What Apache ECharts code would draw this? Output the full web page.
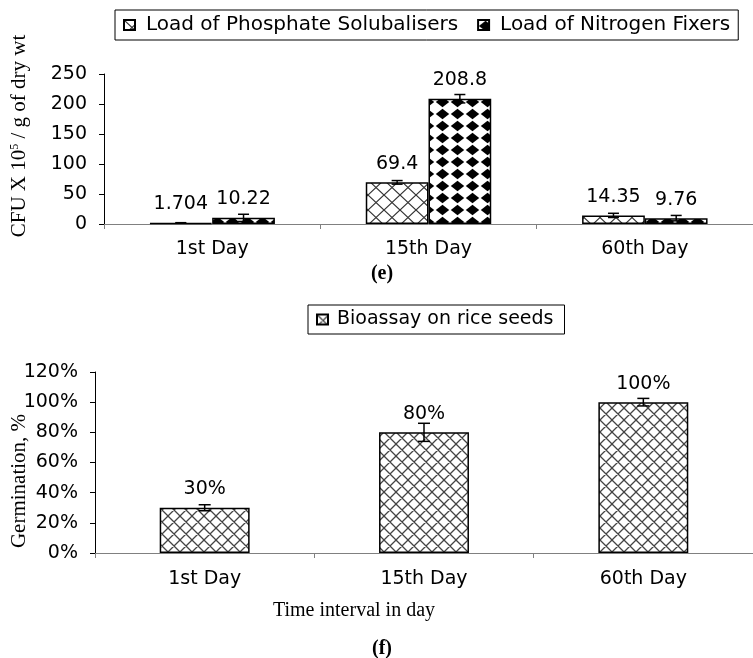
<!DOCTYPE html>
<html><head><meta charset="utf-8">
<script src="https://cdn.jsdelivr.net/npm/echarts@6/dist/echarts.min.js"></script>
<style>html,body{margin:0;padding:0;background:#fff}#c{width:753px;height:658px}</style>
</head><body><div id="c"></div>
<script>
// ---- data ----
const categories = ['1st Day', '15th Day', '60th Day'];
const phosphateValues = [1.704, 69.4, 14.35];
const phosphateErrors = [0.5, 3, 3.5];
const nitrogenValues = [10.22, 208.8, 9.76];
const nitrogenErrors = [6, 7, 4.5];
const germinationValues = [30, 80, 100];
const germinationErrors = [2, 6, 2.5];
const cfuAxis = { min: 0, max: 250, interval: 50 };
const germAxis = { min: 0, max: 120, interval: 20 };

// ---- patterns ----
function crossHatch(w, h, color, lw) {
  const c = document.createElement('canvas'); c.width = w; c.height = h;
  const g = c.getContext('2d');
  g.fillStyle = '#fff'; g.fillRect(0, 0, w, h);
  g.strokeStyle = color; g.lineWidth = lw;
  g.beginPath();
  for (const dx of [-w, 0, w]) {
    g.moveTo(dx, 0); g.lineTo(dx + w, h);
    g.moveTo(dx + w, 0); g.lineTo(dx, h);
  }
  g.stroke();
  return { image: c, repeat: 'repeat' };
}
function harlequin(w, h, inset) {
  const c = document.createElement('canvas'); c.width = w; c.height = h;
  const g = c.getContext('2d');
  g.fillStyle = '#fff'; g.fillRect(0, 0, w, h);
  g.fillStyle = '#000';
  g.beginPath();
  g.moveTo(w / 2, inset); g.lineTo(w - inset, h / 2); g.lineTo(w / 2, h - inset); g.lineTo(inset, h / 2);
  g.closePath(); g.fill();
  return { image: c, repeat: 'repeat' };
}

const SANS = 'DejaVu Sans';
const SERIF = 'Liberation Serif';

function errorBarRender(gapFrac, nBars, capW) {
  return function (params, api) {
    const xi = api.value(0), v = api.value(1), e = api.value(2), k = api.value(3);
    const band = api.size([1, 0])[0];
    const used = band * (1 - gapFrac);
    const bw = used / nBars;
    const base = api.coord([xi, v]);
    const cx = base[0] - used / 2 + bw * (k + 0.5);
    const yt = api.coord([xi, v + e])[1], yb = api.coord([xi, v - e])[1];
    const st = { stroke: '#000', lineWidth: 1.5 };
    return {
      type: 'group', children: [
        { type: 'line', shape: { x1: cx, y1: yt, x2: cx, y2: yb }, style: st },
        { type: 'line', shape: { x1: cx - capW / 2, y1: yt, x2: cx + capW / 2, y2: yt }, style: st },
        { type: 'line', shape: { x1: cx - capW / 2, y1: yb, x2: cx + capW / 2, y2: yb }, style: st }
      ]
    };
  };
}

const topErr = [];
phosphateValues.forEach((v, i) => topErr.push([i, v, phosphateErrors[i], 0]));
nitrogenValues.forEach((v, i) => topErr.push([i, v, nitrogenErrors[i], 1]));
const botErr = germinationValues.map((v, i) => [i, v, germinationErrors[i], 0]);

const axisLabelStyle = { fontFamily: SANS, fontSize: 19, color: '#000' };
const labelStyle = { show: true, position: 'top', distance: 9, fontFamily: SANS, fontSize: 19, color: '#000' };

function xAxisDef(gridIndex, margin) {
  return {
    type: 'category', gridIndex, data: categories,
    axisLine: { lineStyle: { color: '#808080', width: 1 } },
    axisTick: { show: true, length: 5, lineStyle: { color: '#808080' } },
    axisLabel: Object.assign({ margin }, axisLabelStyle),
    splitLine: { show: false }
  };
}
function yAxisDef(gridIndex, ax, fmt) {
  return {
    type: 'value', gridIndex, min: ax.min, max: ax.max, interval: ax.interval,
    axisLine: { show: true, lineStyle: { color: '#000', width: 1 } },
    axisTick: { show: true, length: 5, lineStyle: { color: '#000' } },
    axisLabel: Object.assign({ margin: 17, formatter: fmt }, axisLabelStyle),
    splitLine: { show: false }
  };
}

const chart = echarts.init(document.getElementById('c'), null, { renderer: 'canvas' });
chart.setOption({
  backgroundColor: '#fff',
  animation: false,
  grid: [
    { left: 104, top: 74, width: 657, height: 150 },
    { left: 95, top: 372, width: 690, height: 181 }
  ],
  legend: [
    {
      left: 115, top: 10, padding: [5, 8, 5, 8], borderColor: '#000', borderWidth: 1,
      itemWidth: 11, itemHeight: 10, itemGap: 19, icon: 'rect',
      data: ['Load of Phosphate Solubalisers', 'Load of Nitrogen Fixers'],
      textStyle: { fontFamily: SANS, fontSize: 20, color: '#000', padding: [0, 0, 0, 6] }
    },
    {
      left: 308, top: 305, padding: [5, 11, 5, 8], borderColor: '#000', borderWidth: 1,
      itemWidth: 11, itemHeight: 10, icon: 'rect',
      data: ['Bioassay on rice seeds'],
      textStyle: { fontFamily: SANS, fontSize: 19, color: '#000', padding: [0, 0, 0, 4] }
    }
  ],
  xAxis: [xAxisDef(0, 16), xAxisDef(1, 17)],
  yAxis: [
    yAxisDef(0, cfuAxis, v => String(v)),
    yAxisDef(1, germAxis, v => Math.round(v) + '%')
  ],
  series: [
    {
      name: 'Load of Phosphate Solubalisers', type: 'bar', xAxisIndex: 0, yAxisIndex: 0,
      data: phosphateValues, barGap: '0%', barCategoryGap: '42%',
      itemStyle: { color: crossHatch(16, 15, '#333', 1.2), borderColor: '#000', borderWidth: 1.5 },
      label: labelStyle
    },
    {
      name: 'Load of Nitrogen Fixers', type: 'bar', xAxisIndex: 0, yAxisIndex: 0,
      data: nitrogenValues, barGap: '0%', barCategoryGap: '42%',
      itemStyle: { color: harlequin(15, 12, 0.8), borderColor: '#000', borderWidth: 1.5 },
      label: labelStyle
    },
    {
      name: 'Bioassay on rice seeds', type: 'bar', xAxisIndex: 1, yAxisIndex: 1,
      data: germinationValues, barCategoryGap: '59%',
      itemStyle: { color: crossHatch(12, 12, '#444', 1.3), borderColor: '#000', borderWidth: 1.5 },
      label: Object.assign({}, labelStyle, { formatter: p => p.value + '%' })
    },
    {
      type: 'custom', xAxisIndex: 0, yAxisIndex: 0, z: 5, silent: true,
      renderItem: errorBarRender(0.42, 2, 11), data: topErr
    },
    {
      type: 'custom', xAxisIndex: 1, yAxisIndex: 1, z: 5, silent: true,
      renderItem: errorBarRender(0.59, 1, 12), data: botErr
    }
  ],
  graphic: [
    {
      type: 'text', x: 19, y: 136, rotation: Math.PI / 2,
      style: {
        text: '{n|CFU X 10}{s|5}{n| / g of dry wt}', align: 'center', verticalAlign: 'middle',
        rich: {
          n: { fontFamily: SERIF, fontSize: 21, fill: '#000' },
          s: { fontFamily: SERIF, fontSize: 12, fill: '#000', verticalAlign: 'top', lineHeight: 21 }
        }
      }
    },
    {
      type: 'text', x: 19, y: 481, rotation: Math.PI / 2,
      style: { text: 'Germination, %', align: 'center', verticalAlign: 'middle', fontFamily: SERIF, fontSize: 21, fill: '#000' }
    },
    {
      type: 'text', x: 354, y: 611,
      style: { text: 'Time interval in day', align: 'center', verticalAlign: 'middle', fontFamily: SERIF, fontSize: 20, fill: '#000' }
    },
    {
      type: 'text', x: 382, y: 274,
      style: { text: '(e)', align: 'center', verticalAlign: 'middle', fontFamily: SERIF, fontWeight: 'bold', fontSize: 20, fill: '#000' }
    },
    {
      type: 'text', x: 382, y: 649,
      style: { text: '(f)', align: 'center', verticalAlign: 'middle', fontFamily: SERIF, fontWeight: 'bold', fontSize: 20, fill: '#000' }
    }
  ]
});
</script></body></html>
